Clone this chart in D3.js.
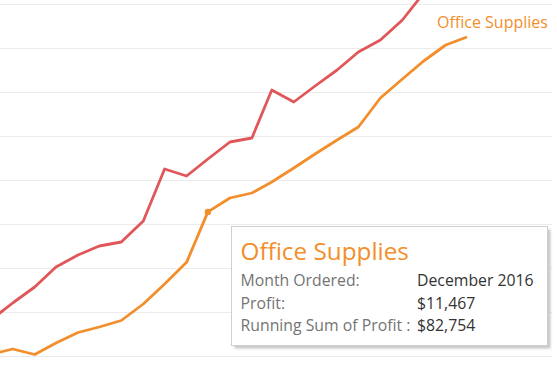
<!DOCTYPE html>
<html>
<head>
<meta charset="utf-8">
<script src="https://cdn.jsdelivr.net/npm/d3@7"></script>
<style>
  body { margin: 0; background: #fff; }
  svg { display: block; }
</style>
</head>
<body>
<svg></svg>
<script>
// months shown (running sum of profit, monthly)
var months = ["2016-02", "2016-03", "2016-04", "2016-05", "2016-06", "2016-07", "2016-08", "2016-09",
    "2016-10", "2016-11", "2016-12", "2017-01", "2017-02", "2017-03", "2017-04", "2017-05",
    "2017-06", "2017-07", "2017-08", "2017-09", "2017-10", "2017-11", "2017-12"]

// running sum of profit, Office Supplies
var officeSupplies = [50455, 51591, 50341, 52955, 55341, 56591, 58068, 61818,
    66364, 71287, 82754, 85909, 87045, 89545, 92727, 95909,
    99091, 102045, 108636, 112955, 117045, 120682, 122491]

// running sum of profit, Technology
var technology = [58409, 62045, 65682, 70227, 72955, 75000, 75909, 80682,
    92500, 90909, 94773, 98636, 99545, 110455, 107727, 111364,
    115000, 119091, 121818, 126364, 132500, 139000, 145455]

var gridTicks = [50000, 60000, 70000, 80000, 90000, 100000, 110000, 120000, 130000]

var tipTitle = "Office Supplies"
var tipLabels = ["Month Ordered:", "Profit:", "Running Sum of Profit :"]
var tipValues = ["December 2016", "$11,467", "$82,754"]
var tipIndex = 10

var width = 557,
    height = 392

var parseMonth = d3.timeParse("%Y-%m")

var svg = d3.select("svg")
    .attr("width", width)
    .attr("height", height)

var xScale = d3.scaleTime()
    .domain([parseMonth(months[0]), parseMonth(months[months.length - 1])])
    .range([-7.9, 467])

var yScale = d3.scaleLinear()
    .domain([0, 130000])
    .range([576, 4])

// gridlines only, no labels
var grid = svg.append("g")
    .attr("class", "grid")
    .call(d3.axisLeft(yScale).tickValues(gridTicks).tickSize(-552).tickFormat(""))

grid.select(".domain").remove()
grid.selectAll("line")
    .attr("stroke", "#ebebeb")
    .attr("shape-rendering", "crispEdges")

var lineGenerator = d3.line()
    .x((d, i) => xScale(parseMonth(months[i])))
    .y(d => yScale(d))

svg.append("path")
    .datum(technology)
    .attr("fill", "none")
    .attr("stroke", "#e15759")
    .attr("stroke-width", 2.8)
    .attr("stroke-linejoin", "round")
    .attr("d", lineGenerator)

svg.append("path")
    .datum(officeSupplies)
    .attr("fill", "none")
    .attr("stroke", "#f28e2b")
    .attr("stroke-width", 2.8)
    .attr("stroke-linejoin", "round")
    .attr("d", lineGenerator)

// highlighted point
svg.append("circle")
    .attr("cx", xScale(parseMonth(months[tipIndex])))
    .attr("cy", yScale(officeSupplies[tipIndex]))
    .attr("r", 3.2)
    .attr("fill", "#f28e2b")

// end label
var last = officeSupplies.length - 1
svg.append("text")
    .attr("x", xScale(parseMonth(months[last])) - 30)
    .attr("y", yScale(officeSupplies[last]) - 9.5)
    .attr("fill", "#f28e2b")
    .style("font-family", "'Open Sans', sans-serif")
    .style("font-size", "16px")
    .text(tipTitle)

// tooltip
var tip = svg.append("g")
    .attr("transform", "translate(231.5,226.5)")

var defs = svg.append("defs")
defs.append("filter")
    .attr("id", "blur")
    .append("feGaussianBlur")
    .attr("stdDeviation", 1.2)

tip.append("rect")
    .attr("x", 3)
    .attr("y", 3)
    .attr("width", 316)
    .attr("height", 119)
    .attr("fill", "#c8c8c8")
    .attr("filter", "url(#blur)")

tip.append("rect")
    .attr("width", 316)
    .attr("height", 119)
    .attr("fill", "#fff")
    .attr("stroke", "#cfcfcf")

tip.append("text")
    .attr("x", 9)
    .attr("y", 33.5)
    .attr("fill", "#f28e2b")
    .style("font-family", "'Open Sans', sans-serif")
    .style("font-size", "24.3px")
    .text(tipTitle)

tip.selectAll("text.lab")
    .data(tipLabels)
    .join("text")
    .attr("class", "lab")
    .attr("x", 9)
    .attr("y", (d, i) => 59.5 + i * 22.5)
    .attr("fill", "#747474")
    .style("font-family", "'Open Sans', sans-serif")
    .style("font-size", "15.8px")
    .text(d => d)

tip.selectAll("text.val")
    .data(tipValues)
    .join("text")
    .attr("class", "val")
    .attr("x", 185.5)
    .attr("y", (d, i) => 59.5 + i * 22.5)
    .attr("fill", "#333")
    .style("font-family", "'Open Sans', sans-serif")
    .style("font-size", "15.8px")
    .text(d => d)
</script>
</body>
</html>
